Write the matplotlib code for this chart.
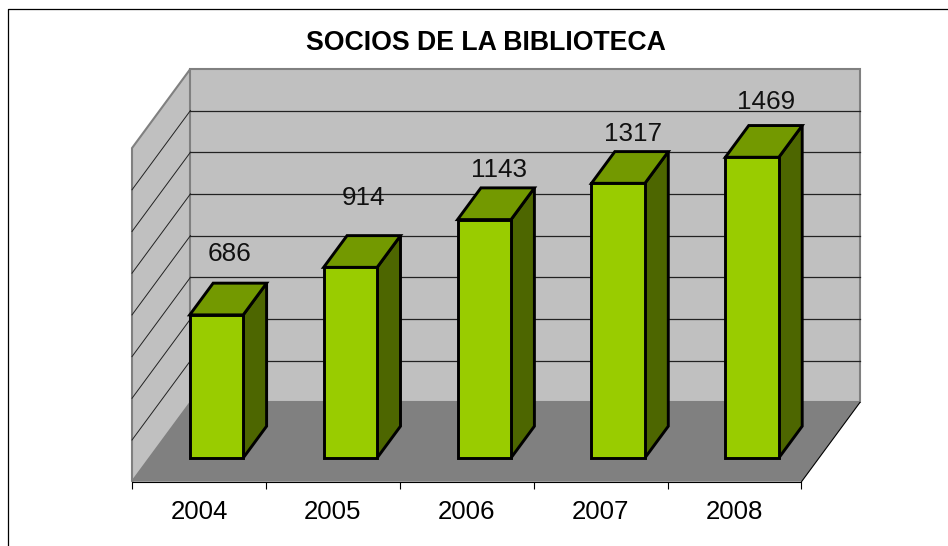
import matplotlib
matplotlib.use('Agg')
import matplotlib.pyplot as plt
from matplotlib.lines import Line2D
from matplotlib.patches import Polygon

plt.rcParams['font.family'] = ['Liberation Sans', 'DejaVu Sans']

years = ['2004', '2005', '2006', '2007', '2008']
socios = [686, 914, 1143, 1317, 1469]
# the last bar is drawn a bit shorter than its label says
bar_heights = [686, 914, 1143, 1317, 1442]
y_grid = [0, 200, 400, 600, 800, 1000, 1200, 1400, 1600]

# labels were moved by hand in the original, pixels from the bar's front top
label_dx = [13, 13, 15, 15, 14]
label_dy = [61, 69, 50, 49, 55]

# oblique depth of the box, in data units
DX = 58.5 / 134.0
DY = 79.3 * 200 / 41.7
BAR_W = 53.5 / 134.0
Z_FRONT = 0.3
Z_BACK = 0.7

FRONT = '#99CC00'
TOP = '#739900'
SIDE = '#4D6600'
WALL = '#C0C0C0'
FLOOR = '#808080'
nx = len(years)
ymax = y_grid[-1]


def pt(x, y, z=0.0):
    return (x + z * DX, y + z * DY)


fig = plt.figure(figsize=(9.48, 5.46), dpi=100)
ax = fig.add_axes([132 / 948, (546 - 481.7) / 546, 669.5 / 948, 333.6 / 546])
ax.set_xlim(0, nx)
ax.set_ylim(0, ymax)


def face(points, color, z, edge='none', lw=0):
    ax.add_patch(Polygon(points, closed=True, facecolor=color, edgecolor=edge,
                         linewidth=lw, zorder=z, clip_on=False, joinstyle='miter'))


# walls and floor
face([pt(0, 0), pt(0, ymax), pt(0, ymax, 1), pt(0, 0, 1)], WALL, 1, FLOOR, 1.5)
face([pt(0, 0, 1), pt(0, ymax, 1), pt(nx, ymax, 1), pt(nx, 0, 1)], WALL, 1, FLOOR, 1.5)
face([pt(0, 0), pt(0, 0, 1), pt(nx, 0, 1), pt(nx, 0)], FLOOR, 3)
ax.plot(*zip(pt(nx, 0), pt(nx, 0, 1)), color='black', lw=0.8, zorder=4, clip_on=False)

# gridlines, back wall and left wall
for v in y_grid[1:-1]:
    ax.plot(*zip(pt(0, v, 1), pt(nx, v, 1)), color='#222222', lw=0.9, zorder=2, clip_on=False)
    ax.plot(*zip(pt(0, v), pt(0, v, 1)), color='#222222', lw=0.7, zorder=2, clip_on=False)

# bars
for i, h in enumerate(bar_heights):
    x0 = i + 0.5 - BAR_W / 2
    x1 = i + 0.5 + BAR_W / 2
    z = 5 + i
    face([pt(x1, 0, Z_FRONT), pt(x1, h, Z_FRONT), pt(x1, h, Z_BACK), pt(x1, 0, Z_BACK)],
         SIDE, z, 'black', 2.1)
    face([pt(x0, h, Z_FRONT), pt(x0, h, Z_BACK), pt(x1, h, Z_BACK), pt(x1, h, Z_FRONT)],
         TOP, z, 'black', 2.1)
    face([pt(x0, 0, Z_FRONT), pt(x0, h, Z_FRONT), pt(x1, h, Z_FRONT), pt(x1, 0, Z_FRONT)],
         FRONT, z, 'black', 2.1)
    ax.annotate(str(socios[i]), xy=pt(i + 0.5, h, Z_FRONT),
                xytext=(label_dx[i], label_dy[i]), textcoords='offset pixels',
                ha='center', va='center', fontsize=18.8, color='#111111',
                zorder=20, annotation_clip=False)

# axis
for s in ['top', 'left', 'right']:
    ax.spines[s].set_visible(False)
ax.spines['bottom'].set_linewidth(0.8)
ax.spines['bottom'].set_zorder(4)
ax.patch.set_visible(False)
ax.set_yticks([])
ax.set_xticks(range(nx + 1))
ax.set_xticklabels([])
ax.set_xticks([i + 0.5 for i in range(nx)], minor=True)
ax.set_xticklabels(years, minor=True, fontsize=18.6)
ax.tick_params(axis='x', which='major', length=5, width=0.8, direction='out')
ax.tick_params(axis='x', which='minor', length=0, pad=13)

fig.text(485.5 / 948, 1 - 43.5 / 546, 'SOCIOS DE LA BIBLIOTECA', ha='center', va='center',
         fontsize=19.2, fontweight='bold', color='black')

# outer chart border, only top and left fall inside the picture
fig.add_artist(Line2D([7.5 / 948, 7.5 / 948, 1], [0, 1 - 8.5 / 546, 1 - 8.5 / 546],
                      color='black', lw=0.9, transform=fig.transFigure))

fig.savefig('out.png', dpi=100)
